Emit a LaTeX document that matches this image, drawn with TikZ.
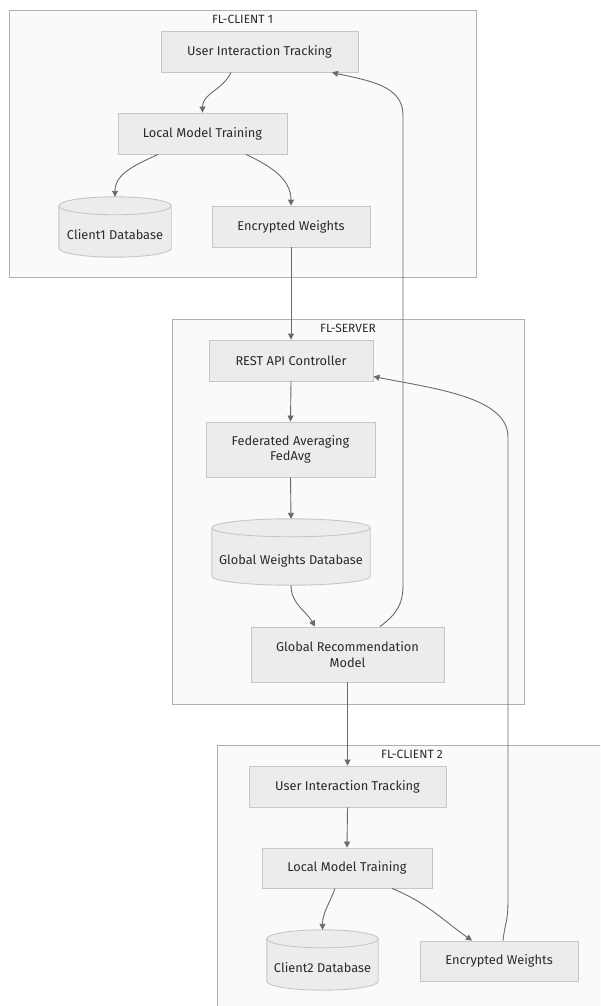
\documentclass[tikz,border=0pt]{standalone}
\usepackage{fontspec}
\setmainfont{Fira Sans}
\usetikzlibrary{arrows.meta,calc}
\definecolor{clfill}{HTML}{FAFAFA}
\definecolor{clline}{HTML}{AFAFAF}
\definecolor{ndfill}{HTML}{ECECEC}
\definecolor{ndline}{HTML}{C6C6C6}
\definecolor{edgec}{HTML}{6A6A6A}
\definecolor{txt}{HTML}{2A2A2A}
\tikzset{
  cluster/.style={draw=clline, fill=clfill, line width=0.9pt},
  cltitle/.style={text=txt, font=\fontsize{12}{14}\selectfont, inner sep=0pt},
  box/.style={draw=ndline, fill=ndfill, line width=0.9pt, text=txt,
    font=\fontsize{12.8}{15.5}\selectfont, align=center, inner sep=0pt},
  dbnode/.style={inner sep=0pt},
  dbtext/.style={text=txt, font=\fontsize{12.8}{15.5}\selectfont, inner sep=0pt},
  dbshape/.style={draw=ndline, fill=ndfill, line width=0.9pt},
  dbrim/.style={draw=ndline, line width=0.9pt},
  arr/.style={draw=edgec, line width=0.9pt, -{Triangle[length=6pt,width=6pt]}},
}
\newcommand\mydb[1]{%
  \path[dbshape] let \p1=(#1.north west), \p2=(#1.north east), \p3=(#1.south west),
    \n1={(\x2-\x1)/2} in
    (\x1,\y1-9pt) -- (\x1,\y3+9pt) arc[start angle=180,end angle=360,x radius=\n1,y radius=9pt]
    -- (\x2,\y1-9pt) arc[start angle=0,end angle=180,x radius=\n1,y radius=9pt] -- cycle;
  \path[dbrim] let \p1=(#1.north west), \p2=(#1.north east), \n1={(\x2-\x1)/2} in
    (\x1,\y1-9pt) arc[start angle=180,end angle=360,x radius=\n1,y radius=9pt];
}
\begin{document}
\begin{tikzpicture}[x=1pt,y=1pt]
\useasboundingbox (0,0) rectangle (600,-1006);
\fill[white] (0,0) rectangle (600,-1006);
\clip (0,0) rectangle (600,-1006);
% clusters
\draw[cluster] (9,-10) rectangle (476,-277);
\node[cltitle] (t1) at (242.5,-19) {FL-CLIENT 1};
\draw[cluster] (172,-319) rectangle (524,-704);
\node[cltitle] (t2) at (348,-328) {FL-SERVER};
\draw[cluster] (217,-745) rectangle (607,-1020);
\node[cltitle] (t3) at (412,-754) {FL-CLIENT 2};
% client 1
\node[box, minimum width=197pt, minimum height=41pt] (uit1) at (259.5,-51.5) {User Interaction Tracking};
\node[box, minimum width=169pt, minimum height=41pt] (lmt1) at (202.5,-133.5) {Local Model Training};
\node[dbnode, minimum width=112pt, minimum height=60pt] (db1) at (115,-227) {};
\mydb{db1}
\node[dbtext] (db1t) at ([yshift=-8pt]db1.center) {Client1 Database};
\node[box, minimum width=158pt, minimum height=41pt] (ew1) at (291,-226.5) {Encrypted Weights};
% server
\node[box, minimum width=164pt, minimum height=41pt] (rest) at (291,-360.5) {REST API Controller};
\node[box, minimum width=169pt, minimum height=55pt] (fed) at (290.5,-449.5) {Federated Averaging\\FedAvg};
\node[dbnode, minimum width=158pt, minimum height=66pt] (gwd) at (291,-552) {};
\mydb{gwd}
\node[dbtext] (gwdt) at ([yshift=-9pt]gwd.center) {Global Weights Database};
\node[box, minimum width=193pt, minimum height=55pt] (grm) at (347.5,-654.5) {Global Recommendation\\Model};
% client 2
\node[box, minimum width=197pt, minimum height=41pt] (uit2) at (347.5,-786.5) {User Interaction Tracking};
\node[box, minimum width=170pt, minimum height=40pt] (lmt2) at (347,-868) {Local Model Training};
\node[dbnode, minimum width=111pt, minimum height=60pt] (db2) at (322.5,-960) {};
\mydb{db2}
\node[dbtext] (db2t) at ([yshift=-8pt]db2.center) {Client2 Database};
\node[box, minimum width=158pt, minimum height=40pt] (ew2) at (499,-961) {Encrypted Weights};
% waypoints
\coordinate (a1) at (403,-585);
\coordinate (a2) at (403,-115);
\coordinate (b1) at (508,-900);
\coordinate (b2) at (508,-437);
% edges
\draw[arr] ([xshift=-28.5pt]uit1.south) to[out=-115,in=90] (lmt1.north);
\draw[arr] ([xshift=-44.5pt]lmt1.south) to[out=-155,in=90] (db1.north);
\draw[arr] ([xshift=43.5pt]lmt1.south) to[out=-25,in=90] (ew1.north);
\draw[arr] (ew1.south) -- (rest.north);
\draw[arr] (rest.south) -- (fed.north);
\draw[arr] (fed.south) -- (gwd.north);
\draw[arr] (gwd.south) to[out=-90,in=120] ([xshift=-32.5pt]grm.north);
\draw[arr] ([xshift=32.5pt]grm.north) .. controls +(16,12) and +(0,-20) .. (a1) -- (a2)
  .. controls +(0,30) and +(35,-8) .. ([xshift=72.5pt]uit1.south);
\draw[arr] (grm.south) -- (uit2.north);
\draw[arr] (uit2.south) -- (lmt2.north);
\draw[arr] ([xshift=-12pt]lmt2.south) to[out=-110,in=90] (db2.north);
\draw[arr] ([xshift=45pt]lmt2.south) to[out=-22,in=145] ([xshift=-27pt]ew2.north);
\draw[arr] ([xshift=4pt]ew2.north) .. controls +(2,18) and +(0,-22) .. (b1) -- (b2)
  .. controls +(0,40) and +(60,-12) .. ([yshift=-16pt]rest.east);
\end{tikzpicture}
\end{document}
